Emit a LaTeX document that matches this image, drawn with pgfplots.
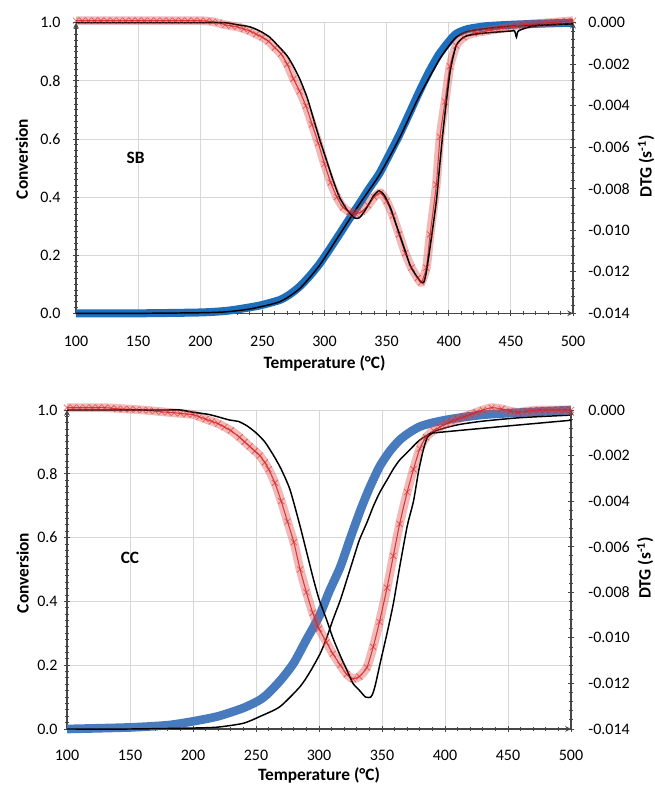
\documentclass[border=0pt]{standalone}
\usepackage{pgfplots}
\pgfplotsset{compat=1.18}
\usepackage{fontspec}
\setmainfont{Carlito}
\definecolor{topblue}{RGB}{30,110,190}
\definecolor{botblue}{RGB}{72,122,190}
\definecolor{expred}{RGB}{215,35,35}
\definecolor{gridgray}{RGB}{215,215,215}
\definecolor{axgray}{RGB}{70,70,70}
\newcommand{\lblfont}{\bfseries\fontsize{13}{15}\selectfont}
\pgfplotsset{
  common/.style={
    scale only axis, xmin=100, xmax=500, clip=false,
    xtick={100,150,...,500}, minor x tick num=4,
    tick align=outside, major tick length=4.5pt, minor tick length=3pt,
    every tick/.style={axgray, line width=0.7pt},
    axis line style={-, axgray, line width=0.9pt},
    tick label style={font=\fontsize{12}{14}\selectfont},
    /pgf/number format/assume math mode=true,
    scaled ticks=false,
  },
  convaxis/.style={common,
    axis x line=bottom, axis y line=left,
    ymin=0, ymax=1, ytick={0,0.2,...,1.0}, minor y tick num=9,
    grid=major, major grid style={gridgray, line width=0.6pt},
    yticklabel style={/pgf/number format/fixed, /pgf/number format/fixed zerofill, /pgf/number format/precision=1},
    ylabel={Conversion}, xlabel={Temperature (°C)},
  },
  dtgaxis/.style={common,
    axis x line=none, axis y line=right,
    ymin=-0.014, ymax=0, ytick={-0.014,-0.012,...,0.0001}, minor y tick num=4,
    yticklabel style={/pgf/number format/fixed, /pgf/number format/fixed zerofill, /pgf/number format/precision=3},
    ylabel={DTG (s\textsuperscript{-1})},
  },
  expband/.style={expred!80, opacity=0.4, line width=6.5pt, smooth, tension=0.4},
  expline/.style={expred, opacity=0.85, line width=0.8pt, smooth, tension=0.4,
    mark=x, mark size=3.2pt, mark options={expred, opacity=0.6, line width=0.6pt}},
  modline/.style={black, line width=1.1pt, smooth, tension=0.4},
}
\begin{document}
\begin{tikzpicture}
\useasboundingbox (0,0) rectangle (490.5pt,589.5pt);
% ================= TOP PANEL (SB) =================
\begin{axis}[convaxis, at={(57pt,354.5pt)}, width=372.75pt, height=217.95pt,
  xticklabel style={anchor=center, yshift=-18.75pt},
  yticklabel style={anchor=east, xshift=-5.8pt},
  every axis y label/.style={at={(axis description cs:-0.1087,0.531)}, rotate=90, anchor=center, font=\lblfont},
  every axis x label/.style={at={(axis description cs:0.5,-0.172)}, anchor=center, font=\lblfont}]
\addplot[topblue, line width=6pt, smooth, tension=0.4] coordinates {
(100,0)(150,0)(200,0.003)(220,0.008)(232,0.015)(248,0.027)(264,0.046)(272,0.065)(280,0.092)(288,0.128)(296,0.17)(304,0.22)(312,0.272)(320,0.325)(328,0.377)(336,0.43)(344,0.48)(352,0.545)(360,0.612)(368,0.685)(376,0.76)(384,0.83)(392,0.89)(400,0.935)(406,0.962)(415,0.978)(430,0.988)(450,0.993)(475,0.997)(500,1.0)};
\addplot[modline] coordinates {
(100,0)(150,0)(200,0.002)(220,0.005)(240,0.015)(264,0.04)(280,0.085)(296,0.165)(312,0.27)(328,0.375)(344,0.475)(360,0.6)(376,0.745)(392,0.87)(400,0.92)(406,0.95)(415,0.97)(430,0.98)(450,0.988)(500,0.997)};
\node[font=\lblfont] at (axis cs:148,0.535) {SB};
\end{axis}
\begin{axis}[dtgaxis, at={(57pt,354.5pt)}, width=372.75pt, height=217.95pt,
  yticklabel style={anchor=west, xshift=5.8pt},
  every axis y label/.style={at={(axis description cs:1.147,0.506)}, rotate=90, anchor=center, font=\lblfont}]
\addplot[expband] coordinates {
(100,0.0001)(120,0.0001)(140,0.0001)(160,0.0001)(180,0.0001)(200,0.0001)(210,0.00005)(220,-0.0001)(230,-0.0002)(240,-0.0004)(250,-0.0007)(255,-0.0009)(260,-0.0012)(265,-0.0015)(270,-0.0020)(275,-0.0027)(280,-0.0033)(285,-0.0040)(290,-0.0049)(295,-0.0058)(300,-0.0068)(305,-0.0077)(310,-0.0084)(315,-0.0089)(320,-0.0091)(325,-0.0092)(330,-0.0091)(335,-0.0088)(340,-0.0084)(345,-0.0082)(350,-0.0086)(355,-0.0093)(360,-0.0102)(365,-0.0111)(370,-0.0118)(375,-0.0123)(378,-0.0125)(382,-0.0118)(385,-0.0102)(390,-0.0078)(393,-0.0055)(397,-0.0038)(401,-0.0021)(406,-0.0011)(412,-0.0007)(420,-0.0005)(440,-0.0003)(460,-0.0001)(480,0.0)(500,0.0001)};
\addplot[expline] coordinates {
(100,0.0001)(105,0.0001)(110,0.0001)(115,0.0001)(120,0.0001)(125,0.0001)(130,0.0001)(135,0.0001)(140,0.0001)(145,0.0001)(150,0.0001)(155,0.0001)(160,0.0001)(165,0.0001)(170,0.0001)(175,0.0001)(180,0.0001)(185,0.0001)(190,0.0001)(195,0.0001)(200,0.0001)(205,0.00008)(210,0.00005)(215,0.0)(220,-0.0001)(225,-0.00015)(230,-0.0002)(235,-0.0003)(240,-0.0004)(245,-0.00055)(250,-0.0007)(255,-0.0009)(260,-0.0012)(265,-0.0015)(270,-0.0020)(275,-0.0027)(280,-0.0033)(285,-0.0040)(290,-0.0049)(295,-0.0058)(300,-0.0068)(305,-0.0077)(310,-0.0084)(315,-0.0089)(320,-0.0091)(325,-0.0092)(330,-0.0091)(335,-0.0088)(340,-0.0084)(345,-0.0082)(350,-0.0086)(355,-0.0093)(360,-0.0102)(365,-0.0111)(370,-0.0118)(375,-0.0123)(378,-0.0125)(382,-0.0118)(385,-0.0102)(390,-0.0078)(393,-0.0055)(397,-0.0038)(401,-0.0021)(406,-0.0011)(412,-0.0007)(420,-0.0005)(425,-0.00045)(430,-0.0004)(435,-0.00035)(440,-0.0003)(445,-0.00025)(450,-0.0002)(455,-0.00015)(460,-0.0001)(465,-0.00008)(470,-0.00005)(475,-0.00002)(480,0.0)(485,0.00002)(490,0.00005)(495,0.00008)(500,0.0001)};
\addplot[modline] coordinates {
(100,0)(150,0)(200,0)(220,0)(230,-0.0001)(240,-0.0002)(248,-0.0004)(256,-0.0007)(264,-0.0012)(270,-0.0016)(275,-0.0021)(280,-0.0027)(286,-0.0036)(291,-0.0046)(296,-0.0056)(302,-0.0067)(307,-0.0076)(312,-0.0084)(318,-0.0090)(324,-0.0094)(328,-0.0094)(332,-0.0091)(336,-0.0087)(340,-0.0083)(344,-0.0081)(348,-0.0083)(353,-0.0089)(357,-0.0096)(361,-0.0103)(365,-0.0110)(369,-0.0117)(374,-0.0122)(378,-0.0125)(380,-0.0125)(382,-0.0120)(385,-0.0108)(390,-0.0086)(393,-0.0067)(396,-0.0049)(401,-0.0024)(406,-0.0011)(412,-0.0007)(417,-0.0006)(428,-0.0005)(450,-0.0004)(453,-0.0004)(454.5,-0.0007)(456,-0.0004)(465,-0.0002)(473,-0.00013)(500,-0.00005)};
\end{axis}
% ================= BOTTOM PANEL (CC) =================
\begin{axis}[convaxis, at={(50.25pt,42.75pt)}, width=378pt, height=239.25pt,
  xticklabel style={anchor=center, yshift=-17.25pt},
  yticklabel style={anchor=east, xshift=-1.3pt},
  every axis y label/.style={at={(axis description cs:-0.088,0.489)}, rotate=90, anchor=center, font=\lblfont},
  every axis x label/.style={at={(axis description cs:0.5,-0.144)}, anchor=center, font=\lblfont}]
\addplot[botblue, line width=6.5pt, smooth, tension=0.4] coordinates {
(100,0)(150,0.005)(180,0.012)(200,0.024)(220,0.04)(240,0.066)(253,0.091)(260,0.113)(270,0.155)(280,0.207)(290,0.28)(300,0.352)(308,0.43)(317,0.509)(325,0.6)(333,0.687)(340,0.755)(348,0.822)(356,0.87)(364,0.906)(372,0.93)(380,0.948)(390,0.96)(401,0.969)(412,0.976)(430,0.985)(450,0.99)(475,0.995)(500,1.0)};
\addplot[modline] coordinates {
(100,0)(150,0)(200,0.003)(220,0.006)(240,0.018)(253,0.039)(269,0.07)(285,0.133)(293,0.18)(301,0.237)(306,0.285)(311,0.342)(317,0.405)(322,0.467)(327,0.53)(332,0.592)(338,0.647)(343,0.697)(348,0.74)(354,0.781)(359,0.815)(364,0.843)(372,0.875)(380,0.906)(391,0.932)(401,0.945)(412,0.955)(430,0.965)(460,0.976)(500,0.984)};
\node[font=\lblfont] at (axis cs:150,0.535) {CC};
\end{axis}
\begin{axis}[dtgaxis, at={(50.25pt,42.75pt)}, width=378pt, height=239.25pt,
  yticklabel style={anchor=west, xshift=7.3pt},
  every axis y label/.style={at={(axis description cs:1.147,0.505)}, rotate=90, anchor=center, font=\lblfont}]
\addplot[expband] coordinates {
(100,0.0001)(130,0.0001)(160,0.0)(180,-0.0001)(190,-0.00015)(200,-0.0002)(210,-0.0004)(220,-0.0006)(230,-0.0009)(237,-0.0012)(245,-0.0016)(253,-0.0020)(260,-0.0026)(265,-0.0032)(270,-0.0040)(275,-0.0049)(280,-0.0058)(285,-0.0070)(290,-0.0080)(295,-0.0089)(300,-0.0096)(306,-0.0102)(311,-0.0107)(317,-0.0112)(322,-0.0116)(327,-0.0118)(332,-0.0117)(338,-0.0113)(343,-0.0104)(348,-0.0093)(354,-0.0078)(359,-0.0064)(364,-0.0050)(370,-0.0036)(375,-0.0026)(380,-0.0017)(385,-0.0012)(391,-0.0009)(401,-0.0006)(410,-0.0004)(420,-0.0002)(430,0.0)(437,0.0001)(445,0.00005)(452,-0.00005)(458,-0.0001)(465,-0.00005)(475,0.0)(490,0.0)(500,0.0)};
\addplot[expline] coordinates {
(100,0.0001)(105,0.0001)(110,0.0001)(115,0.0001)(120,0.0001)(125,0.0001)(130,0.0001)(135,0.00008)(140,0.00005)(145,0.00004)(150,0.00003)(155,0.00002)(160,0.0)(165,-0.00002)(170,-0.00005)(175,-0.00008)(180,-0.0001)(185,-0.00012)(190,-0.00015)(195,-0.00018)(200,-0.0002)(205,-0.0003)(210,-0.0004)(215,-0.0005)(220,-0.0006)(225,-0.00075)(230,-0.0009)(237,-0.0012)(241,-0.0014)(245,-0.0016)(249,-0.0018)(253,-0.0020)(257,-0.0023)(260,-0.0026)(265,-0.0032)(270,-0.0040)(275,-0.0049)(280,-0.0058)(285,-0.0070)(290,-0.0080)(295,-0.0089)(300,-0.0096)(306,-0.0102)(311,-0.0107)(317,-0.0112)(322,-0.0116)(327,-0.0118)(332,-0.0117)(338,-0.0113)(343,-0.0104)(348,-0.0093)(354,-0.0078)(359,-0.0064)(364,-0.0050)(370,-0.0036)(375,-0.0026)(380,-0.0017)(385,-0.0012)(391,-0.0009)(396,-0.00075)(401,-0.0006)(405,-0.0005)(410,-0.0004)(415,-0.0003)(420,-0.0002)(425,-0.0001)(430,0.0)(437,0.0001)(445,0.00005)(452,-0.00005)(458,-0.0001)(465,-0.00005)(470,-0.00002)(475,0.0)(480,0.0)(485,0.0)(490,0.0)(495,0.0)(500,0.0)};
\addplot[modline] coordinates {
(100,0)(150,0)(180,0)(190,0)(200,-0.0001)(213,-0.0002)(229,-0.00044)(236,-0.0005)(243,-0.0007)(250,-0.0010)(257,-0.0014)(264,-0.0020)(270,-0.0026)(277,-0.0035)(285,-0.0051)(290,-0.0062)(295,-0.0073)(300,-0.0083)(306,-0.0092)(311,-0.0100)(317,-0.0108)(322,-0.0114)(327,-0.0120)(332,-0.0123)(337,-0.0126)(341,-0.0126)(343,-0.0124)(345,-0.0120)(349,-0.0110)(354,-0.0098)(359,-0.0085)(364,-0.0069)(370,-0.0051)(375,-0.0040)(379,-0.0027)(383,-0.0017)(386,-0.0012)(389,-0.00105)(392,-0.0010)(450,-0.0007)(500,-0.00045)};
\end{axis}
\end{tikzpicture}
\end{document}
